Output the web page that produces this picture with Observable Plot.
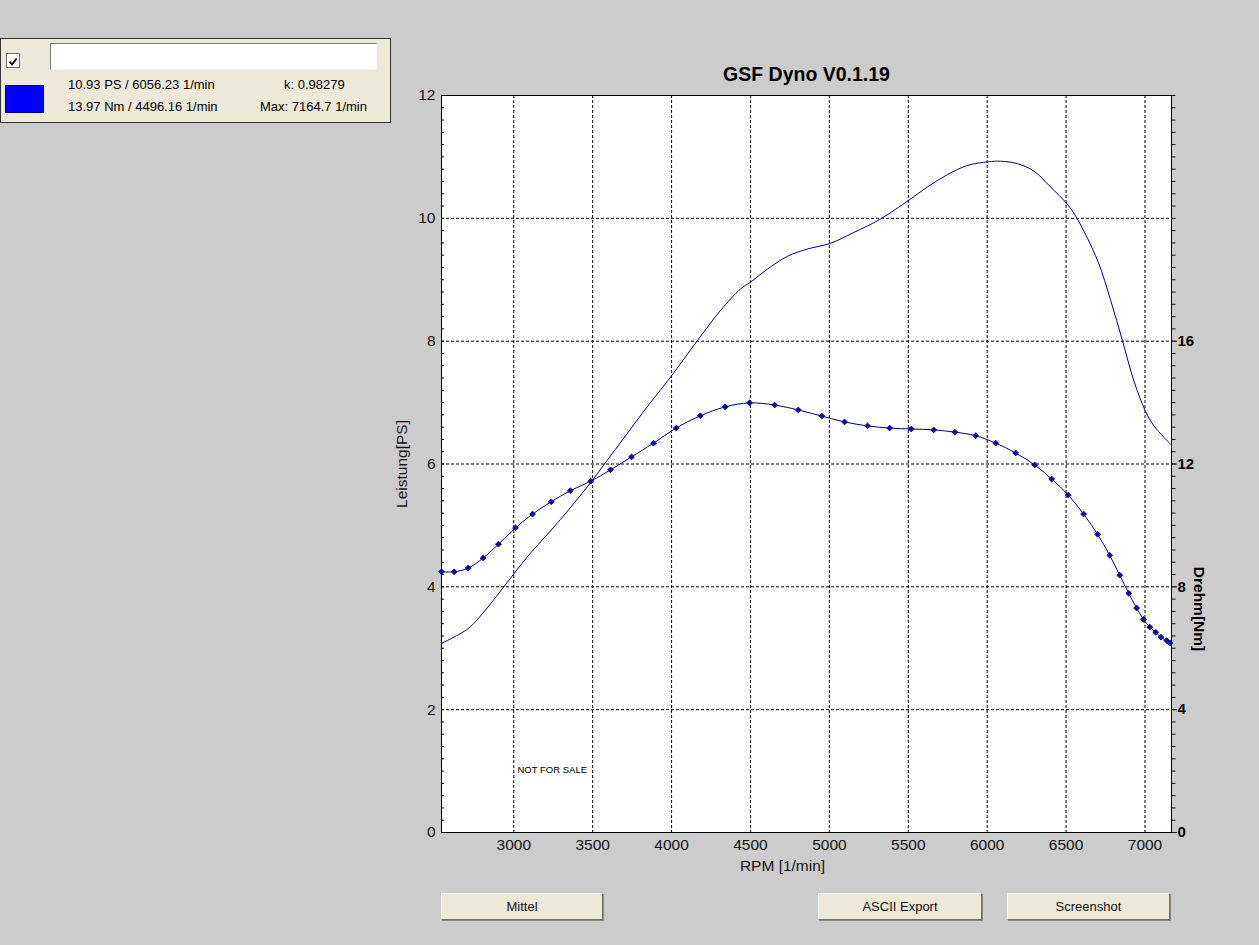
<!DOCTYPE html>
<html>
<head>
<meta charset="utf-8">
<script src="https://cdn.jsdelivr.net/npm/d3@7"></script>
<script src="https://cdn.jsdelivr.net/npm/@observablehq/plot@0.6"></script>
<style>
html, body { margin: 0; padding: 0; background: #cccccc; overflow: hidden; }
#wrap { position: relative; width: 1259px; height: 945px; font-family: "Liberation Sans", Arial, sans-serif; color: #000; }
#chart { position: absolute; left: 0; top: 0; }
.panel { position: absolute; left: 0; top: 38px; width: 389px; height: 83px; background: #ece9d8; border: 1px solid #333; box-sizing: content-box; }
.abs { position: absolute; }
.cb { left: 6px; top: 53px; width: 12px; height: 13px; background: #fff; border: 1px solid #6f6f6f; }
.field { left: 50px; top: 43px; width: 325px; height: 25px; background: #fff; border: 1px solid; border-color: #7a7a7a #f4f4f4 #f4f4f4 #7a7a7a; }
.swatch { left: 5px; top: 85px; width: 37px; height: 26px; background: #0000ff; border: 1px solid #000070; }
.lt { font-size: 13px; line-height: 14px; white-space: nowrap; }
.btn { position: absolute; top: 893px; height: 25px; background: #ece9d8; border: 1px solid; border-color: #fbfbf5 #6e6e66 #6e6e66 #fbfbf5; box-shadow: 1px 1px 0 #888; font-size: 13px; line-height: 25px; text-align: center; color: #111; }
</style>
</head>
<body>
<div id="wrap">
  <div id="chart"></div>
  <div class="panel"></div>
  <div class="abs cb"><svg width="12" height="13" viewBox="0 0 12 13"><polyline points="2.5,6.5 5,9.5 9.5,3.5" fill="none" stroke="#000" stroke-width="1.8"/></svg></div>
  <div class="abs field"></div>
  <div class="abs swatch"></div>
  <div class="abs lt" style="left:68px;top:78px;">10.93 PS / 6056.23 1/min</div>
  <div class="abs lt" style="left:68px;top:100px;">13.97 Nm / 4496.16 1/min</div>
  <div class="abs lt" style="left:284px;top:78px;">k: 0.98279</div>
  <div class="abs lt" style="left:260px;top:100px;">Max: 7164.7 1/min</div>
  <div class="btn" style="left:441px;width:160px;">Mittel</div>
  <div class="btn" style="left:818px;width:162px;">ASCII Export</div>
  <div class="btn" style="left:1007px;width:161px;">Screenshot</div>
</div>
<script>
// ---- data ----
const rpmPower = [2542,2711,2810,2916,3000,3106,3233,3359,3488,3592,3697,3824,3983,4190,4310,4437,4500,4606,4733,4860,5003,5155,5325,5506,5621,5747,5874,6007,6085,6191,6296,6402,6508,6571,6700,6783,6857,6930,7003,7057,7163];
const powerPS = [3.08,3.32,3.59,3.93,4.21,4.55,4.91,5.29,5.70,6.06,6.42,6.86,7.38,8.10,8.50,8.85,8.96,9.17,9.38,9.50,9.59,9.77,9.99,10.30,10.51,10.71,10.86,10.92,10.93,10.89,10.77,10.51,10.23,9.99,9.31,8.66,8.01,7.35,6.86,6.62,6.32];

const rpmTorque = [2542,2622,2711,2806,2903,3011,3119,3237,3358,3488,3613,3746,3886,4029,4182,4340,4494,4653,4803,4952,5096,5242,5382,5519,5661,5794,5927,6054,6180,6301,6409,6514,6611,6700,6776,6840,6897,6947,6990,7030,7068,7101,7138,7159];
const torqueNm = [8.49,8.49,8.61,8.94,9.39,9.92,10.37,10.77,11.13,11.44,11.81,12.23,12.68,13.17,13.57,13.86,13.99,13.92,13.76,13.56,13.37,13.24,13.17,13.14,13.11,13.04,12.92,12.68,12.36,11.97,11.51,10.99,10.37,9.71,9.03,8.38,7.79,7.31,6.94,6.69,6.52,6.36,6.25,6.17];

const rpmTicks = [3000,3500,4000,4500,5000,5500,6000,6500,7000];
const psTicks = [0,2,4,6,8,10,12];
const psGrid = [2,4,6,8,10];
const nmTicks = [0,4,8,12,16];
const psMinor = d3.range(0, 61).map(i => i / 5);   // every 0.2 PS (= 0.4 Nm)
const rpmDomain = [2542, 7168];
const psDomain = [0, 12];
const nmPerPs = 2; // right axis: 24 Nm at top

const titleText = "GSF Dyno V0.1.19";
const xLabel = "RPM [1/min]";
const yLabel = "Leistung[PS]";
const y2Label = "Drehm[Nm]";
const watermark = "NOT FOR SALE";

// ---- tables ----
const powerRows = rpmPower.map((r, i) => ({rpm: r, ps: powerPS[i]}));
const torqueRows = rpmTorque.map((r, i) => ({rpm: r, nm: torqueNm[i]}));

const W = 1259, H = 945, mL = 441, mR = 88, mT = 95, mB = 113;
const plotW = W - mL - mR;
const font = '"Liberation Sans", Arial, sans-serif';
const lineColor = "#000078";
const dotColor = "#0c0c9e";
const grid = {stroke: "#000", strokeOpacity: 1, strokeWidth: 1, strokeDasharray: "3,2"};

const chart = Plot.plot({
  width: W, height: H,
  marginLeft: mL, marginRight: mR, marginTop: mT, marginBottom: mB,
  style: {background: "transparent", fontFamily: font, fontSize: "15px", color: "#141414", overflow: "visible"},
  x: {domain: rpmDomain, label: null},
  y: {domain: psDomain, label: null},
  marks: [
    Plot.frame({fill: "white", stroke: null}),
    Plot.gridX({ticks: rpmTicks, ...grid}),
    Plot.gridY({ticks: psGrid, ...grid}),
    // inward minor ticks on left edge
    Plot.tickY(psMinor, {y: d => d, stroke: "#000", insetRight: plotW - 3}),
    // left axis labels
    Plot.axisY({ticks: psTicks, tickSize: 0, tickPadding: 6, fontSize: 15.5, label: null}),
    // right axis (Nm) minor + major ticks and bold labels
    Plot.axisY({anchor: "right", ticks: psMinor, tickSize: 3.5, fill: "none", label: null}),
    Plot.axisY({anchor: "right", ticks: nmTicks.map(v => v / nmPerPs), tickFormat: d => String(Math.round(d * nmPerPs)),
                tickSize: 5, tickPadding: 1, fontSize: 15, fontWeight: "bold", fill: "#000", label: null}),
    // x axis labels
    Plot.axisX({ticks: rpmTicks, tickFormat: d => String(d), tickSize: 0, tickPadding: 6, fontSize: 15.5, label: null}),
    // curves
    Plot.line(powerRows, {x: "rpm", y: "ps", stroke: lineColor, strokeWidth: 1, curve: "catmull-rom"}),
    Plot.line(torqueRows, {x: "rpm", y: d => d.nm / nmPerPs, stroke: lineColor, strokeWidth: 1, curve: "catmull-rom"}),
    Plot.dot(torqueRows, {x: "rpm", y: d => d.nm / nmPerPs, symbol: "diamond2", r: 2.6, fill: dotColor, stroke: dotColor, strokeWidth: 1}),
    // texts
    Plot.text([watermark], {frameAnchor: "bottom-left", dx: 76, dy: -63, textAnchor: "start", lineAnchor: "middle", fontSize: 9.5, fill: "#000"}),
    Plot.text([titleText], {frameAnchor: "top", dy: -21, textAnchor: "middle", lineAnchor: "middle", fontSize: 19.5, fontWeight: "bold", fill: "#000"}),
    Plot.text([xLabel], {frameAnchor: "bottom", dx: -24, dy: 34, textAnchor: "middle", lineAnchor: "middle", fontSize: 15.5}),
    Plot.text([yLabel], {frameAnchor: "left", dx: -39, textAnchor: "middle", lineAnchor: "middle", rotate: -90, fontSize: 15.5}),
    Plot.text([y2Label], {frameAnchor: "right", dx: 27, dy: 145, textAnchor: "middle", lineAnchor: "middle", rotate: 90, fontSize: 15.5, fontWeight: "bold", fill: "#000"}),
    Plot.frame({stroke: "#000", strokeWidth: 1})
  ]
});
document.getElementById("chart").appendChild(chart);
</script>
</body>
</html>
